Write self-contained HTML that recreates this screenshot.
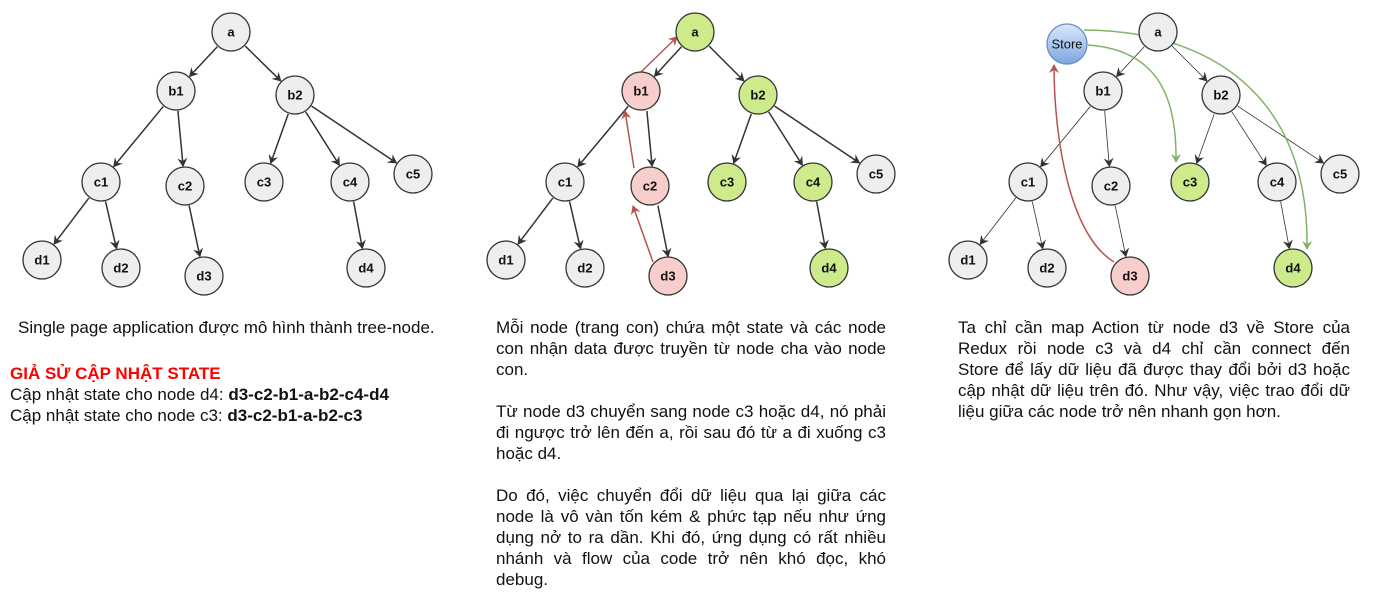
<!DOCTYPE html>
<html><head><meta charset="utf-8"><style>
body{margin:0;width:1376px;height:605px;background:#fff;position:relative;overflow:hidden;font-family:"Liberation Sans",Arial,sans-serif;}
svg{position:absolute;left:0;top:0}
.t{position:absolute;font-size:17px;line-height:21px;color:#111;}
.j{text-align:justify;}
.l div{text-align:justify;text-align-last:justify;white-space:nowrap;}
.l div.e{text-align-last:left;}
.n text{font-weight:bold;font-size:13px;text-anchor:middle;dominant-baseline:central;font-family:"Liberation Sans",Arial,sans-serif;fill:#111}
</style></head><body>
<svg id="s" width="1376" height="605" viewBox="0 0 1376 605">
<defs>
<marker id="ak" markerWidth="10" markerHeight="10" refX="8" refY="5" orient="auto" markerUnits="userSpaceOnUse"><path d="M0,0 L9,5 L0,10 L3,5 z" fill="#333"/></marker>
<marker id="ar" markerWidth="10" markerHeight="10" refX="8" refY="5" orient="auto" markerUnits="userSpaceOnUse"><path d="M0,0 L9,5 L0,10 L3,5 z" fill="#b85450"/></marker>
<marker id="ag" markerWidth="10" markerHeight="10" refX="8" refY="5" orient="auto" markerUnits="userSpaceOnUse"><path d="M0,0 L9,5 L0,10 L3,5 z" fill="#82b366"/></marker>
<linearGradient id="bg" x1="0" y1="0" x2="0" y2="1"><stop offset="0" stop-color="#dae8fc"/><stop offset="1" stop-color="#7ea6e0"/></linearGradient>
</defs>
<g id="edges"></g>
<path d="M653,262 L633,206" stroke="#b85450" stroke-width="1.5" fill="none" marker-end="url(#ar)"/>
<path d="M634,168 L625,111" stroke="#b85450" stroke-width="1.5" fill="none" marker-end="url(#ar)"/>
<path d="M641,72 L677,37" stroke="#b85450" stroke-width="1.5" fill="none" marker-end="url(#ar)"/>
<path d="M1114,262 C1070,235 1054,140 1054,65" stroke="#b85450" stroke-width="1.5" fill="none" marker-end="url(#ar)"/>
<path d="M1088,45 C1160,50 1177,100 1176,162" stroke="#82b366" stroke-width="1.5" fill="none" marker-end="url(#ag)"/>
<path d="M1084,30 C1190,30 1310,80 1307,249" stroke="#82b366" stroke-width="1.5" fill="none" marker-end="url(#ag)"/>
<g class="n" id="nodes">
<g><circle cx="231" cy="32" r="19" fill="#eee" stroke="#333" stroke-width="1.3"/><text x="231" y="32">a</text></g>
<g><circle cx="176" cy="91" r="19" fill="#eee" stroke="#333" stroke-width="1.3"/><text x="176" y="91">b1</text></g>
<g><circle cx="295" cy="95" r="19" fill="#eee" stroke="#333" stroke-width="1.3"/><text x="295" y="95">b2</text></g>
<g><circle cx="101" cy="182" r="19" fill="#eee" stroke="#333" stroke-width="1.3"/><text x="101" y="182">c1</text></g>
<g><circle cx="185" cy="186" r="19" fill="#eee" stroke="#333" stroke-width="1.3"/><text x="185" y="186">c2</text></g>
<g><circle cx="264" cy="182" r="19" fill="#eee" stroke="#333" stroke-width="1.3"/><text x="264" y="182">c3</text></g>
<g><circle cx="350" cy="182" r="19" fill="#eee" stroke="#333" stroke-width="1.3"/><text x="350" y="182">c4</text></g>
<g><circle cx="413" cy="174" r="19" fill="#eee" stroke="#333" stroke-width="1.3"/><text x="413" y="174">c5</text></g>
<g><circle cx="42" cy="260" r="19" fill="#eee" stroke="#333" stroke-width="1.3"/><text x="42" y="260">d1</text></g>
<g><circle cx="121" cy="268" r="19" fill="#eee" stroke="#333" stroke-width="1.3"/><text x="121" y="268">d2</text></g>
<g><circle cx="204" cy="276" r="19" fill="#eee" stroke="#333" stroke-width="1.3"/><text x="204" y="276">d3</text></g>
<g><circle cx="366" cy="268" r="19" fill="#eee" stroke="#333" stroke-width="1.3"/><text x="366" y="268">d4</text></g>
<g><circle cx="695" cy="32" r="19" fill="#cdeb8b" stroke="#333" stroke-width="1.3"/><text x="695" y="32">a</text></g>
<g><circle cx="641" cy="91" r="19" fill="#f8cecc" stroke="#333" stroke-width="1.3"/><text x="641" y="91">b1</text></g>
<g><circle cx="758" cy="95" r="19" fill="#cdeb8b" stroke="#333" stroke-width="1.3"/><text x="758" y="95">b2</text></g>
<g><circle cx="565" cy="182" r="19" fill="#eee" stroke="#333" stroke-width="1.3"/><text x="565" y="182">c1</text></g>
<g><circle cx="650" cy="186" r="19" fill="#f8cecc" stroke="#333" stroke-width="1.3"/><text x="650" y="186">c2</text></g>
<g><circle cx="727" cy="182" r="19" fill="#cdeb8b" stroke="#333" stroke-width="1.3"/><text x="727" y="182">c3</text></g>
<g><circle cx="813" cy="182" r="19" fill="#cdeb8b" stroke="#333" stroke-width="1.3"/><text x="813" y="182">c4</text></g>
<g><circle cx="876" cy="174" r="19" fill="#eee" stroke="#333" stroke-width="1.3"/><text x="876" y="174">c5</text></g>
<g><circle cx="506" cy="260" r="19" fill="#eee" stroke="#333" stroke-width="1.3"/><text x="506" y="260">d1</text></g>
<g><circle cx="585" cy="268" r="19" fill="#eee" stroke="#333" stroke-width="1.3"/><text x="585" y="268">d2</text></g>
<g><circle cx="668" cy="276" r="19" fill="#f8cecc" stroke="#333" stroke-width="1.3"/><text x="668" y="276">d3</text></g>
<g><circle cx="829" cy="268" r="19" fill="#cdeb8b" stroke="#333" stroke-width="1.3"/><text x="829" y="268">d4</text></g>
<g><circle cx="1158" cy="32" r="19" fill="#eee" stroke="#333" stroke-width="1.3"/><text x="1158" y="32">a</text></g>
<g><circle cx="1103" cy="91" r="19" fill="#eee" stroke="#333" stroke-width="1.3"/><text x="1103" y="91">b1</text></g>
<g><circle cx="1221" cy="95" r="19" fill="#eee" stroke="#333" stroke-width="1.3"/><text x="1221" y="95">b2</text></g>
<g><circle cx="1028" cy="182" r="19" fill="#eee" stroke="#333" stroke-width="1.3"/><text x="1028" y="182">c1</text></g>
<g><circle cx="1111" cy="186" r="19" fill="#eee" stroke="#333" stroke-width="1.3"/><text x="1111" y="186">c2</text></g>
<g><circle cx="1190" cy="182" r="19" fill="#cdeb8b" stroke="#333" stroke-width="1.3"/><text x="1190" y="182">c3</text></g>
<g><circle cx="1277" cy="182" r="19" fill="#eee" stroke="#333" stroke-width="1.3"/><text x="1277" y="182">c4</text></g>
<g><circle cx="1340" cy="174" r="19" fill="#eee" stroke="#333" stroke-width="1.3"/><text x="1340" y="174">c5</text></g>
<g><circle cx="968" cy="260" r="19" fill="#eee" stroke="#333" stroke-width="1.3"/><text x="968" y="260">d1</text></g>
<g><circle cx="1047" cy="268" r="19" fill="#eee" stroke="#333" stroke-width="1.3"/><text x="1047" y="268">d2</text></g>
<g><circle cx="1130" cy="276" r="19" fill="#f8cecc" stroke="#333" stroke-width="1.3"/><text x="1130" y="276">d3</text></g>
<g><circle cx="1293" cy="268" r="19" fill="#cdeb8b" stroke="#333" stroke-width="1.3"/><text x="1293" y="268">d4</text></g>
<g><circle cx="1067" cy="44" r="20" fill="url(#bg)" stroke="#6c8ebf" stroke-width="1.3"/><text x="1067" y="44" style="font-weight:normal;font-size:13px">Store</text></g>
</g>
</svg>
<div class="t" style="left:18px;top:317px;">Single page application được mô hình thành tree-node.</div>
<div class="t" style="left:10px;top:363px;"><b style="color:#f00">GIẢ SỬ CẬP NHẬT STATE</b><br>Cập nhật state cho node d4: <b>d3-c2-b1-a-b2-c4-d4</b><br>Cập nhật state cho node c3: <b>d3-c2-b1-a-b2-c3</b></div>
<div class="t j" style="left:496px;top:317px;width:390px;">Mỗi node (trang con) chứa một state và các node con nhận data được truyền từ node cha vào node con.<br><br>Từ node d3 chuyển sang node c3 hoặc d4, nó phải đi ngược trở lên đến a, rồi sau đó từ a đi xuống c3 hoặc d4.<br><br>Do đó, việc chuyển đổi dữ liệu qua lại giữa các node là vô vàn tốn kém &amp; phức tạp nếu như ứng dụng nở to ra dần. Khi đó, ứng dụng có rất nhiều nhánh và flow của code trở nên khó đọc, khó debug.</div>
<div class="t l" style="left:958px;top:317px;width:392px;">
<div>Ta chỉ cần map Action từ node d3 về Store của</div>
<div>Redux rồi node c3 và d4 chỉ cần connect đến</div>
<div>Store để lấy dữ liệu đã được thay đổi bởi d3 hoặc</div>
<div>cập nhật dữ liệu trên đó. Như vậy, việc trao đổi dữ</div>
<div class="e">liệu giữa các node trở nên nhanh gọn hơn.</div>
</div>
<script>
var E=[["a","b1"],["a","b2"],["b1","c1"],["b1","c2"],["b2","c3"],["b2","c4"],["b2","c5"],["c1","d1"],["c1","d2"],["c2","d3"],["c4","d4"]];
var T=[
{a:[231,32],b1:[176,91],b2:[295,95],c1:[101,182],c2:[185,186],c3:[264,182],c4:[350,182],c5:[413,174],d1:[42,260],d2:[121,268],d3:[204,276],d4:[366,268],w:1.5,sh:0},
{a:[695,32],b1:[641,91],b2:[758,95],c1:[565,182],c2:[650,186],c3:[727,182],c4:[813,182],c5:[876,174],d1:[506,260],d2:[585,268],d3:[668,276],d4:[829,268],w:1.5,sh:1},
{a:[1158,32],b1:[1103,91],b2:[1221,95],c1:[1028,182],c2:[1111,186],c3:[1190,182],c4:[1277,182],c5:[1340,174],d1:[968,260],d2:[1047,268],d3:[1130,276],d4:[1293,268],w:0.8,sh:0}];
var g=document.getElementById("edges"),ns="http://www.w3.org/2000/svg";
T.forEach(function(t){E.forEach(function(e){var p=t[e[0]],q=t[e[1]];var dx=q[0]-p[0],dy=q[1]-p[1],L=Math.sqrt(dx*dx+dy*dy),ux=dx/L,uy=dy/L;
var ox=0;if(t.sh&&((e[0]=="b1"&&e[1]=="c2")||(e[0]=="c2"&&e[1]=="d3"))){ox=4;}
var l=document.createElementNS(ns,"line");l.setAttribute("x1",p[0]+ux*20+ox);l.setAttribute("y1",p[1]+uy*20);l.setAttribute("x2",q[0]-ux*20+ox);l.setAttribute("y2",q[1]-uy*20);
l.setAttribute("stroke","#333");l.setAttribute("stroke-width",t.w);l.setAttribute("marker-end","url(#ak)");g.appendChild(l);});});
</script>
</body></html>
